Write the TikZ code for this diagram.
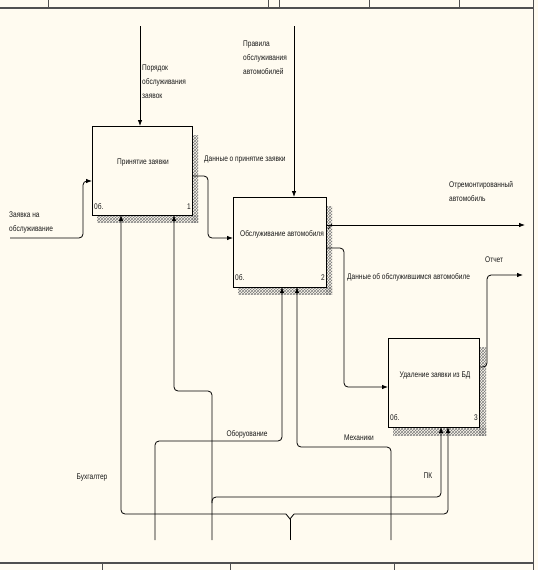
\documentclass[tikz,border=0pt]{standalone}
\usepackage{fontspec}
\setmainfont{Liberation Sans}[FakeStretch=0.8]
\usetikzlibrary{arrows.meta,patterns}
\definecolor{bg}{HTML}{FFFBF0}
\definecolor{frame}{HTML}{505050}
\begin{document}
\begin{tikzpicture}[x=1pt,y=-1pt,
  box/.style={draw=black, line width=1pt, fill=bg, inner sep=0pt, outer sep=0pt},
  conn/.style={line width=0.8pt, rounded corners=4pt},
  arr/.style={conn, -{Latex[length=6pt,width=4.5pt]}},
  lbl/.style={font=\fontsize{8.2}{14}\selectfont, inner sep=0pt, align=left, text=black!90},
  shade/.style={pattern=crosshatch, pattern color=gray},
  frm/.style={draw=frame, line width=1.2pt}]
\useasboundingbox (0,0) rectangle (538,570);
\fill[bg] (0,0) rectangle (538,570);
% frame strips
\draw[frm] (0,8) -- (533,8);
\draw[frm, line width=0.8pt] (48,0) -- (48,8) (268,0) -- (268,8) (279,0) -- (279,8) (369,0) -- (369,8) (459,0) -- (459,8);
\draw[frm] (0,563) -- (533,563);
\draw[frm, line width=0.8pt] (102,563) -- (102,570) (230,563) -- (230,570) (394,563) -- (394,570);
\draw[frm, line width=1pt] (533,0) -- (533,570);
% shadows
\fill[shade] (192,135) rectangle (198,222);
\fill[shade] (97,215) rectangle (198,222);
\fill[shade] (326,206) rectangle (332,294);
\fill[shade] (238,287) rectangle (332,294);
\fill[shade] (479,347) rectangle (486,435);
\fill[shade] (393,427) rectangle (486,435);
% boxes
\node[box, minimum width=100pt, minimum height=89pt] (b1) at (142,170.5) {};
\node[box, minimum width=93pt, minimum height=90pt] (b2) at (279.5,242) {};
\node[box, minimum width=91pt, minimum height=89pt] (b3) at (433.5,382.5) {};
\node[lbl] (t1) at (143,163) {Принятие заявки};
\node[lbl] (t2) at (282,234) {Обслуживание автомобиля};
\node[lbl] (t3) at (435,375) {Удаление заявки из БД};
\node[lbl, anchor=west] (k1) at (94,207) {0б.};
\node[lbl, anchor=east] (n1) at (191,207) {1};
\node[lbl, anchor=west] (k2) at (235,278) {0б.};
\node[lbl, anchor=east] (n2) at (325,278) {2};
\node[lbl, anchor=west] (k3) at (390,418) {0б.};
\node[lbl, anchor=east] (n3) at (478,418) {3};
% free ends
\coordinate (in0) at (10,238);
\coordinate (c1) at (140,26);
\coordinate (c2) at (294,26);
\coordinate (o1) at (525,225);
\coordinate (o3) at (523,275);
\coordinate (m1) at (290,540);
\coordinate (m2) at (212,540);
\coordinate (m3) at (155,540);
\coordinate (m4) at (391,540);
% inputs / controls
\draw[arr] (in0) -- (83,238) -- (83,181) -- (b1.west |- 0,181);
\draw[arr] (c1) -- (b1.north -| c1);
\draw[arr] (c2) -- (b2.north -| c2);
% outputs
\draw[arr] (b1.east |- 0,176) -- (208,176) -- (208,238) -- (b2.west |- 0,238);
\draw[arr] (b2.east |- 0,225) -- (o1);
\draw[line width=0.6pt] (328,229) -- (332,224);
\draw[arr] (b2.east |- 0,248) -- (344,248) -- (344,387) -- (b3.west |- 0,387);
\draw[arr] (b3.east |- 0,367) -- (487,367) -- (487,275) -- (o3);
% mechanisms
\draw[conn] (m1) -- (290,519);
\draw[line width=0.8pt] (286,514) -- (290,519) -- (294,514);
\draw[arr] (286,514) -- (121,514) -- (b1.south -| 121,0);
\draw[arr] (294,514) -- (448,514) -- (b3.south -| 448,0);
\draw[arr] (m2) -- (212,391) -- (174,391) -- (b1.south -| 174,0);
\draw[arr] (212,503) -- (212,497) -- (441,497) -- (b3.south -| 441,0);
\draw[arr] (m3) -- (155,441) -- (282,441) -- (b2.south -| 282,0);
\draw[arr] (m4) -- (391,447) -- (297,447) -- (b2.south -| 297,0);
% labels
\node[lbl, anchor=west] (l1) at (9,222) {Заявка на\\обслуживание};
\node[lbl, anchor=west] (l2) at (142,81.5) {Порядок\\обслуживания\\заявок};
\node[lbl, anchor=west] (l3) at (243,58) {Правила\\обслуживания\\автомобилей};
\node[lbl, anchor=west] (l4) at (204,160) {Данные о принятие заявки};
\node[lbl, anchor=west] (l5) at (449,191.5) {Отремонтированный\\автомобиль};
\node[lbl, anchor=west] (l6) at (347,277) {Данные об обслужившимся автомобиле};
\node[lbl, anchor=west] (l7) at (485,260) {Отчет};
\node[lbl] (l8) at (247,434) {Оборуование};
\node[lbl] (l9) at (359,438) {Механики};
\node[lbl] (l10) at (92,478) {Бухгалтер};
\node[lbl] (l11) at (428,476) {ПК};
\end{tikzpicture}
\end{document}
